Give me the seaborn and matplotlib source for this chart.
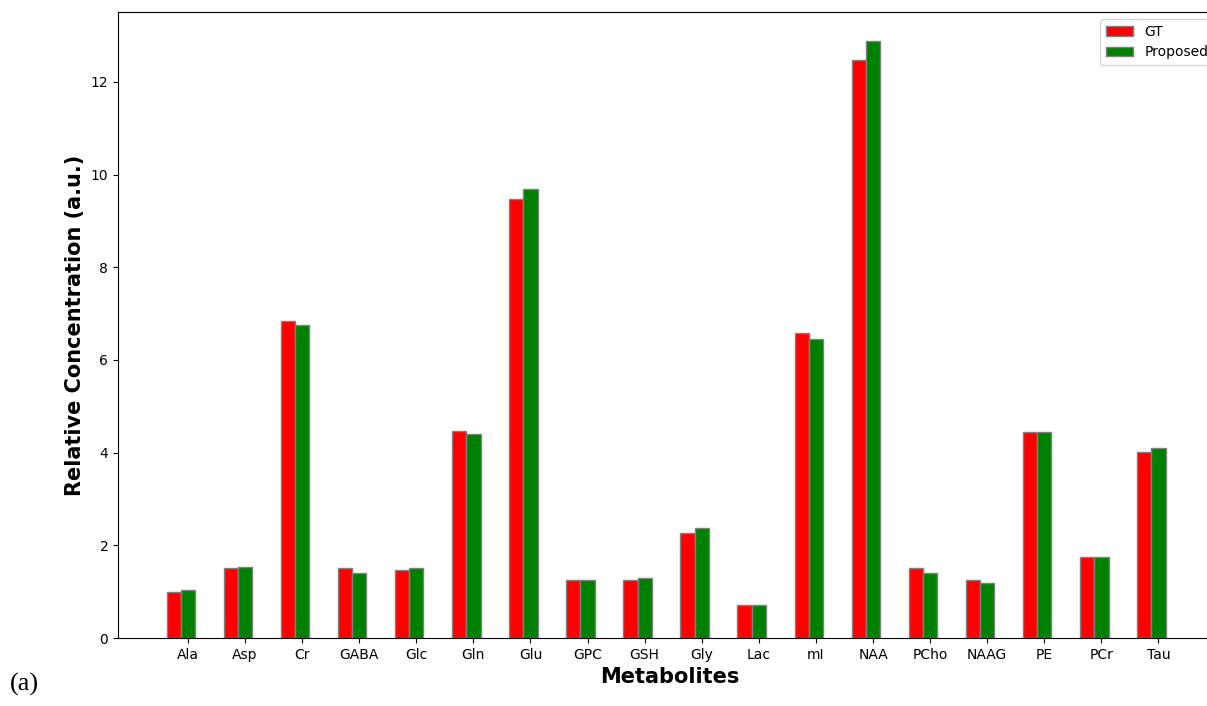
import numpy as np
import pandas as pd
import seaborn as sns
from matplotlib import pyplot as plt

metabolites = ['Ala', 'Asp', 'Cr', 'GABA', 'Glc', 'Gln', 'Glu', 'GPC', 'GSH',
               'Gly', 'Lac', 'mI', 'NAA', 'PCho', 'NAAG', 'PE', 'PCr', 'Tau']
gt_vals = [0.99, 1.52, 6.84, 1.52, 1.47, 4.46, 9.48, 1.25, 1.25,
           2.27, 0.71, 6.58, 12.47, 1.52, 1.26, 4.44, 1.75, 4.01]
proposed_vals = [1.03, 1.54, 6.76, 1.41, 1.50, 4.40, 9.68, 1.25, 1.30,
                 2.37, 0.71, 6.45, 12.88, 1.41, 1.19, 4.44, 1.75, 4.09]
methods = ['GT', 'Proposed']
colors = ['red', 'green']

df = pd.DataFrame({
    'Metabolite': metabolites * 2,
    'Value': gt_vals + proposed_vals,
    'Method': [methods[0]] * len(metabolites) + [methods[1]] * len(metabolites),
})

fig = plt.figure(figsize=(12.07, 7.06), dpi=100)
ax = fig.add_axes([118 / 1207, 68 / 706, (1221 - 118) / 1207, 626 / 706])

sns.barplot(data=df, x='Metabolite', y='Value', hue='Method', palette=colors,
            width=0.5, saturation=1, edgecolor='grey', linewidth=1, ax=ax)

# tick sits under the second (green) bar, like the original figure
ax.set_xticks(np.arange(len(metabolites)) + 0.125, metabolites)
ax.set_xlim(-1.10, 18.22)
ax.set_ylim(0, 13.51)
ax.set_yticks([0, 2, 4, 6, 8, 10, 12])
ax.set_xlabel('Metabolites', fontsize=15, fontweight='bold')
ax.set_ylabel('Relative Concentration (a.u.)', fontsize=15, fontweight='bold')
sns.move_legend(ax, 'upper right', title=None, fontsize=10)

fig.text(0.008, 0.022, '(a)', fontsize=19, family='Liberation Serif')

plt.savefig('out.png', dpi=100)
